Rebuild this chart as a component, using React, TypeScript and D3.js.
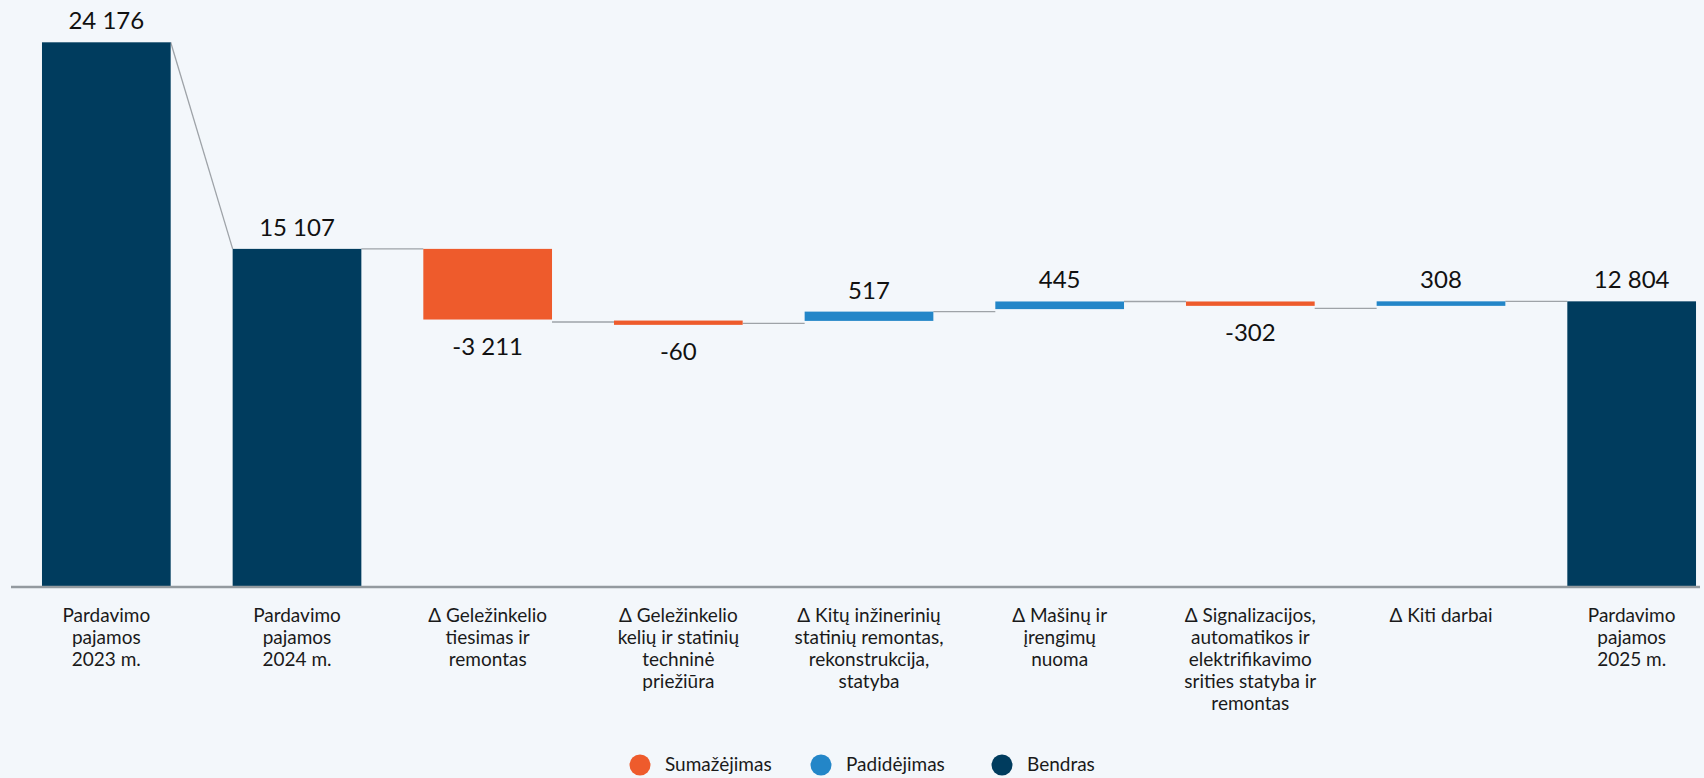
import React from "react";
import * as d3 from "d3";

const categories = [
  "Pardavimo\npajamos\n2023 m.",
  "Pardavimo\npajamos\n2024 m.",
  "Δ Geležinkelio\ntiesimas ir\nremontas",
  "Δ Geležinkelio\nkelių ir statinių\ntechninė\npriežiūra",
  "Δ Kitų inžinerinių\nstatinių remontas,\nrekonstrukcija,\nstatyba",
  "Δ Mašinų ir\nįrengimų\nnuoma",
  "Δ Signalizacijos,\nautomatikos ir\nelektrifikavimo\nsrities statyba ir\nremontas",
  "Δ Kiti darbai",
  "Pardavimo\npajamos\n2025 m.",
];
const values = [24176, 15107, -3211, -60, 517, 445, -302, 308, 12804];
const kinds = ["total", "total", "delta", "delta", "delta", "delta", "delta", "delta", "total"];

const legendItems = ["Sumažėjimas", "Padidėjimas", "Bendras"];
const colors = { down: "#EE5B2C", up: "#2386C8", total: "#003C5E" };

const width = 1704,
  height = 778;
const axisY = 587;

const fmt = d3.formatLocale({
  decimal: ",",
  thousands: " ",
  grouping: [3],
  currency: ["", " €"],
  minus: "-",
}).format(",d");

export default function App() {
  const x = d3
    .scaleBand()
    .domain(categories)
    .range([11, 1727])
    .paddingInner(0.325)
    .paddingOuter(0.1625);
  const y = d3.scaleLinear().domain([0, 24176]).range([593, 42.3]);
  const bw = x.bandwidth();

  // running totals
  let run = 0;
  const bars = values.map((v, i) => {
    let start, end;
    if (kinds[i] === "total") {
      start = 0;
      end = v;
    } else {
      start = run;
      end = run + v;
    }
    run = end;
    return { cat: categories[i], v, kind: kinds[i], start, end };
  });

  const connectors = [];
  for (let i = 0; i < bars.length - 1; i++) {
    const a = bars[i],
      b = bars[i + 1];
    const y2 = b.kind === "total" ? y(b.v) : y(b.start);
    connectors.push({
      x1: (x(a.cat) as number) + bw,
      y1: y(a.end),
      x2: x(b.cat) as number,
      y2,
    });
  }

  const font = "Lato, 'Open Sans', sans-serif";

  return (
    <svg
      width={width}
      height={height}
      style={{ position: "absolute", left: 0, top: 0, background: "#F3F7FB" }}
    >
      <rect width={width} height={height} fill="#F3F7FB" />
      {connectors.map((c, i) => (
        <line key={"c" + i} x1={c.x1} y1={c.y1} x2={c.x2} y2={c.y2} stroke="#9ea3a8" strokeWidth={1.3} />
      ))}
      {bars.map((d, i) => {
        const bx = x(d.cat) as number;
        let top, bottom, fill;
        if (d.kind === "total") {
          top = y(d.v);
          bottom = axisY;
          fill = colors.total;
        } else {
          top = y(Math.max(d.start, d.end));
          bottom = y(Math.min(d.start, d.end)) - 2.5;
          if (bottom - top < 4.3) {
            const mid = (y(d.start) + y(d.end)) / 2;
            top = mid - 2.15;
            bottom = mid + 2.15;
          }
          fill = d.v < 0 ? colors.down : colors.up;
        }
        const labelY = d.v < 0 ? bottom + 35 : top - 13;
        return (
          <g key={"b" + i}>
            <rect x={bx} y={top} width={bw} height={bottom - top} fill={fill} />
            <text
              x={bx + bw / 2}
              y={labelY}
              textAnchor="middle"
              fontFamily={font}
              fontSize={24}
              fill="#111"
            >
              {fmt(d.v)}
            </text>
          </g>
        );
      })}
      <line x1={11} x2={1700} y1={axisY} y2={axisY} stroke="#939a9f" strokeWidth={2.5} />
      {categories.map((c, i) => (
        <text
          key={"t" + i}
          x={(x(c) as number) + bw / 2}
          y={622}
          textAnchor="middle"
          fontFamily={font}
          fontSize={19}
          fill="#1a1a1a"
        >
          {c.split("\n").map((line, j) => (
            <tspan key={j} x={(x(c) as number) + bw / 2} dy={j === 0 ? 0 : 22}>
              {line}
            </tspan>
          ))}
        </text>
      ))}
      {legendItems.map((l, i) => {
        const cx = 640 + i * 181;
        const col = i === 0 ? colors.down : i === 1 ? colors.up : colors.total;
        return (
          <g key={"l" + i}>
            <circle cx={cx} cy={765} r={10.5} fill={col} />
            <text x={cx + 25} y={771} fontFamily={font} fontSize={19} fill="#1a1a1a">
              {l}
            </text>
          </g>
        );
      })}
    </svg>
  );
}
